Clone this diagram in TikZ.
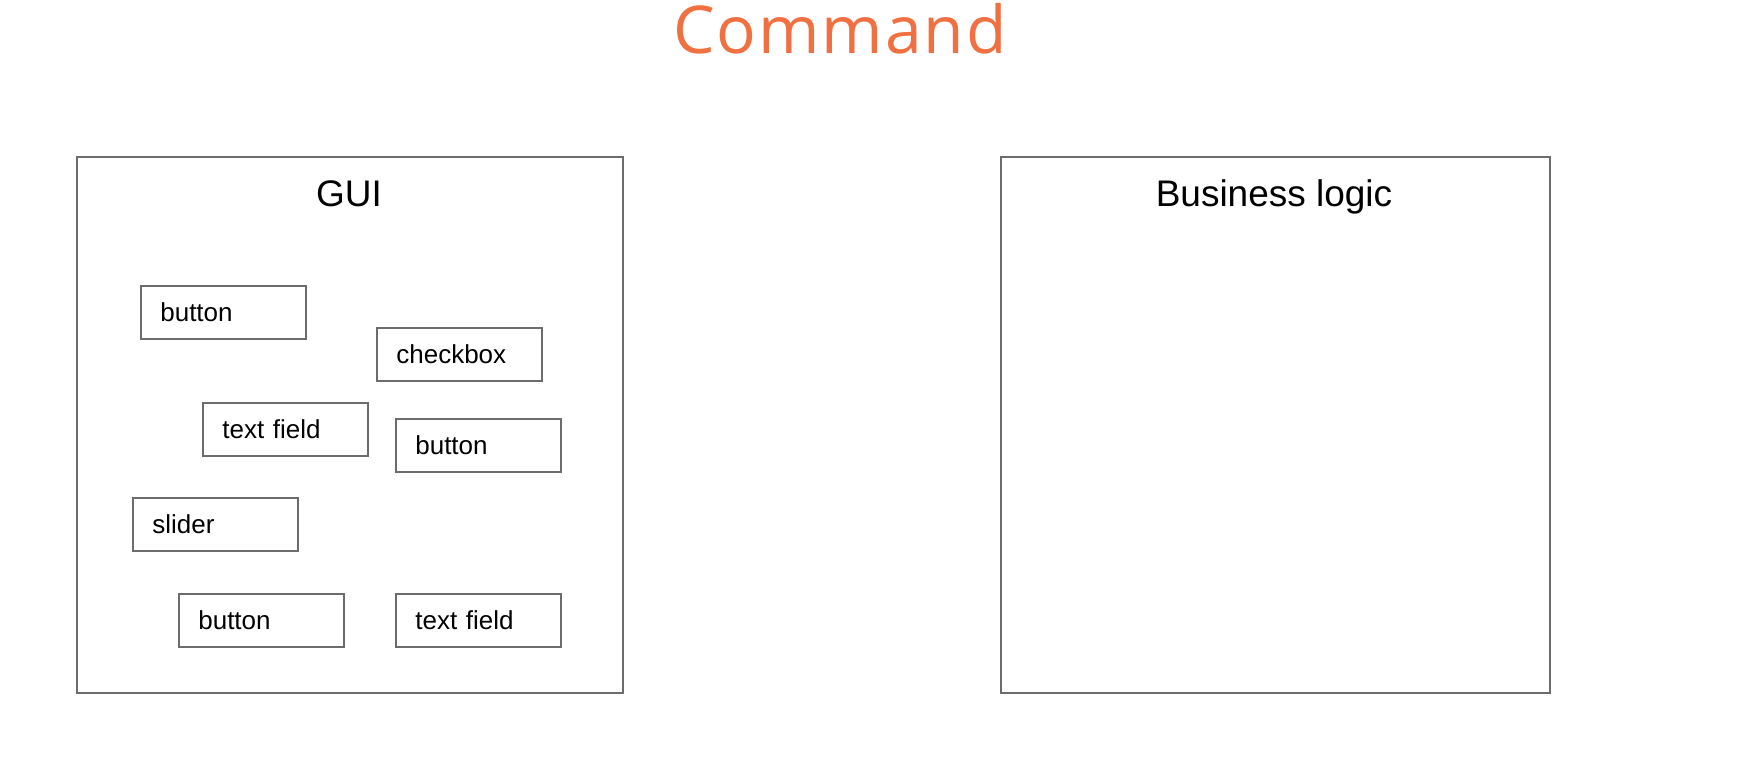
\documentclass[tikz,border=0pt]{standalone}
\usepackage{fontspec}
\setmainfont{Liberation Sans}
\newfontfamily\titlefont[LetterSpace=3]{Open Sans}
\definecolor{cmdorange}{RGB}{240,112,66}
\definecolor{framegray}{RGB}{108,108,108}

\begin{document}
\begin{tikzpicture}[
  x=1pt, y=-1pt,
  panel/.style={draw=framegray, line width=1.8pt, rectangle, anchor=north west, minimum width=546pt, minimum height=536pt},
  widget/.style={draw=framegray, line width=1.7pt, rectangle, anchor=north west, minimum height=53pt,
    text width=126pt, inner xsep=19.5pt, align=left, font=\fontsize{26}{29}\selectfont},
  caption/.style={anchor=base, font=\fontsize{37}{42}\selectfont},
]
\useasboundingbox (0,0) rectangle (1740,776);

\node (title) [anchor=base, text=cmdorange, font=\titlefont\fontsize{66}{72}\selectfont] at (840,54) {Command};

\node (gui) [panel] at (76,156) {};
\node (logic) [panel, minimum width=549pt] at (1000,156) {};
\node (guilbl) [caption] at (349,206) {GUI};
\node (logiclbl) [caption] at (1274,206) {Business logic};

\foreach \n/\px/\py/\txt in {w1/140/285/button, w2/376/327/checkbox, w3/202/402/text field,
    w4/395/418/button, w5/132/497/slider, w6/178/593/button, w7/395/593/text field} {
  \node (\n) [widget] at (\px,\py) {\txt};
}

\end{tikzpicture}
\end{document}
